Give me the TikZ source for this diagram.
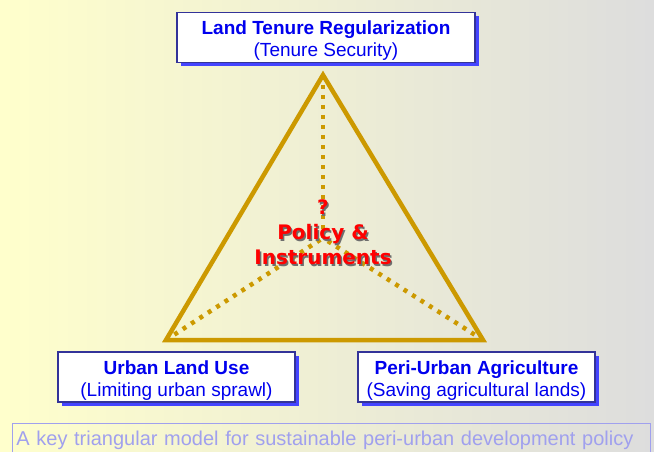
\documentclass[tikz,border=0pt]{standalone}
\usepackage{fontspec}
\setmainfont{Liberation Sans}
\newfontfamily\verdfont{DejaVu Sans}
\usepackage{tikz}
\usetikzlibrary{shadows}

\definecolor{gold}{RGB}{204,153,0}
\definecolor{navy}{RGB}{51,51,153}
\definecolor{boxblue}{RGB}{0,0,238}
\definecolor{shadeblue}{RGB}{68,68,255}
\definecolor{capblue}{RGB}{160,160,238}
\definecolor{bgyellow}{RGB}{255,255,204}
\definecolor{bggray}{RGB}{221,221,221}
\definecolor{redtext}{RGB}{255,0,0}
\definecolor{redshade}{RGB}{110,110,110}

\newcommand{\shadowed}[1]{\leavevmode\rlap{\hspace{1.5pt}\raisebox{-1.5pt}{\textcolor{redshade}{#1}}}\textcolor{redtext}{#1}}
\newcommand{\topstrut}{\rule{0pt}{20pt}}

\begin{document}
\begin{tikzpicture}[x=1pt, y=-1pt,
    side/.style = {draw=gold, line width=4.5pt, line join=miter},
    spoke/.style = {draw=gold, line width=4.5pt, dash pattern=on 4pt off 6pt},
    goal/.style = {draw=navy, line width=1.5pt, fill=white, align=center, text=boxblue,
        font=\fontsize{19}{22}\selectfont, minimum height=50pt, inner sep=0pt,
        drop shadow={shadow xshift=3.5pt, shadow yshift=-3.5pt, fill=shadeblue, opacity=1}}]

    % background
    \useasboundingbox (0,0) rectangle (654,452);
    \shade [left color=bgyellow, right color=bggray] (0,0) rectangle (654,452);

    % triangle
    \coordinate (apex) at (323,75);
    \coordinate (left) at (166,340);
    \coordinate (right) at (483,340);
    \coordinate (hub) at (323,238);

    \draw [spoke] (apex) -- (hub);
    \draw [spoke] (left) -- (hub);
    \draw [spoke] (right) -- (hub);
    \draw [side] (apex) -- (left) -- (right) -- cycle;

    \node [font=\verdfont\bfseries\fontsize{20}{25}\selectfont, align=center, inner sep=0pt] (policy) at (323,233)
        {\shadowed{?}\\\shadowed{Policy \&}\\\shadowed{Instruments}};

    % boxes
    \node [goal, minimum width=298pt] (tenure) at (326,37.5) {\topstrut\textbf{Land Tenure Regularization}\\(Tenure Security)};
    \node [goal, minimum width=237pt] (landuse) at (176.5,377) {\topstrut\textbf{Urban Land Use}\\(Limiting urban sprawl)};
    \node [goal, minimum width=237pt] (agri) at (476.5,377) {\topstrut\textbf{Peri-Urban Agriculture}\\(Saving agricultural lands)};

    % caption
    \node [draw=capblue, line width=0.8pt, text=capblue, anchor=north west, inner xsep=4pt, inner ysep=0pt,
        text width=630pt, text height=22pt, text depth=18pt, font=\fontsize{20}{24}\selectfont] (caption) at (12,423)
        {A key triangular model for sustainable peri-urban development policy};

\end{tikzpicture}
\end{document}
